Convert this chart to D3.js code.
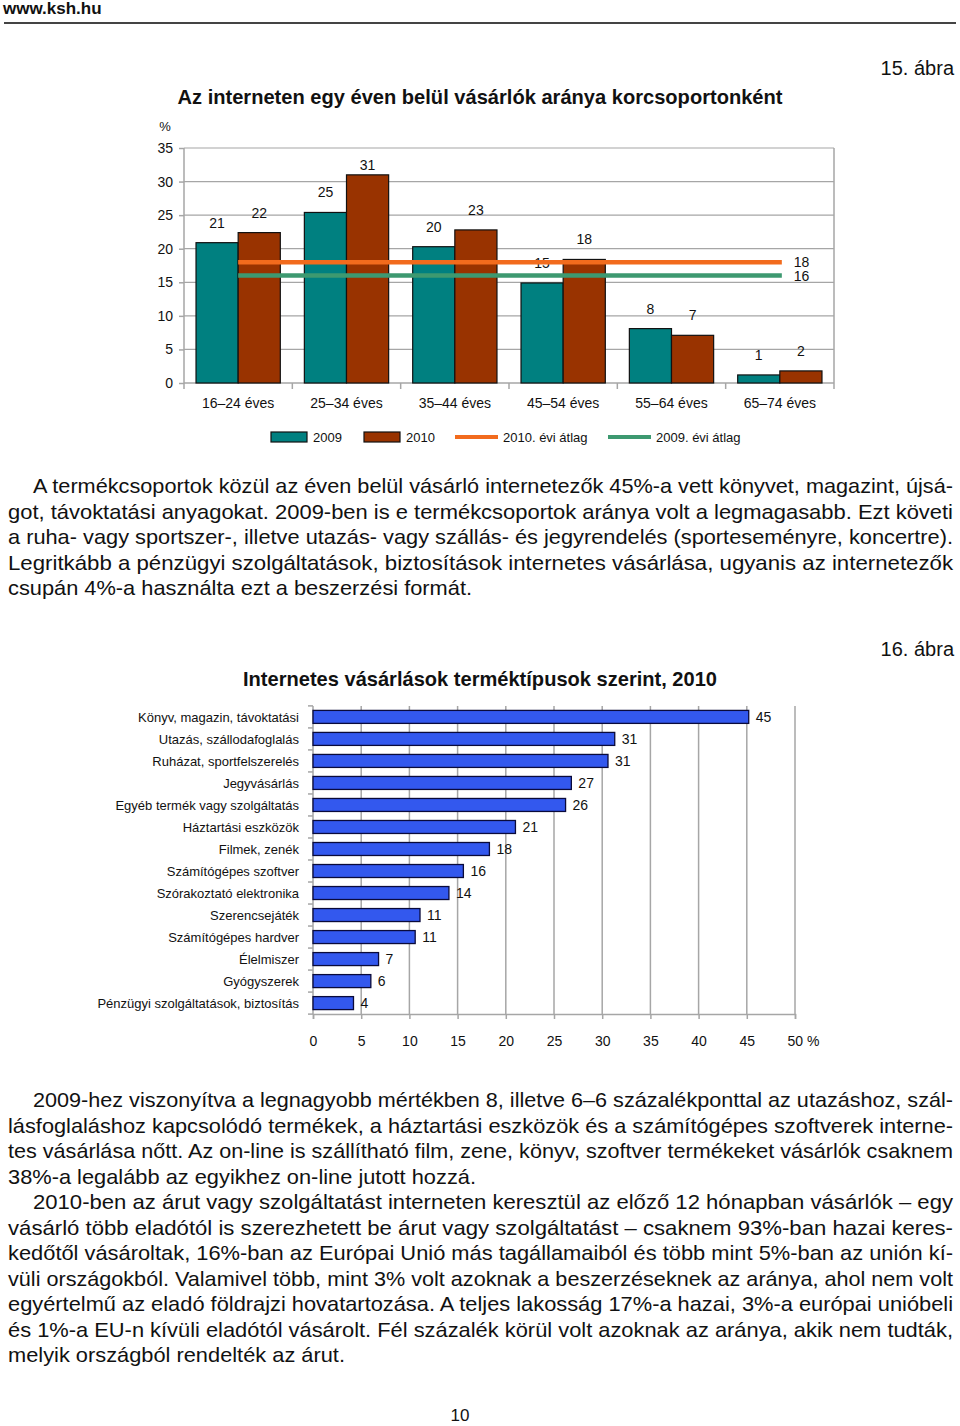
<!DOCTYPE html>
<html>
<head>
<meta charset="utf-8">
<script src="https://cdn.jsdelivr.net/npm/d3@7"></script>
<style>
  body { margin: 0; background: #fff; }
  svg { display: block; }
  text { font-family: "Liberation Sans Narrow", "Arial Narrow", "Liberation Sans", Arial, sans-serif; fill: #111; }
  .small { font-family: "Liberation Sans", Arial, sans-serif; font-size: 13px; }
</style>
</head>
<body>
<svg id="page" width="960" height="1426"></svg>
<script>
// ---- data: chart 15 (age groups) ----
const ageGroups = ["16–24 éves", "25–34 éves", "35–44 éves", "45–54 éves", "55–64 éves", "65–74 éves"];
const years = ["2009", "2010"];
const values2009 = [20.9, 25.4, 20.3, 14.9, 8.1, 1.2];
const values2010 = [22.4, 31.0, 22.8, 18.4, 7.1, 1.8];
const avg2009 = 16;
const avg2010 = 18;
const yTicks1 = [0, 5, 10, 15, 20, 25, 30, 35];

// ---- data: chart 16 (product types) ----
const products = ["Könyv, magazin, távoktatási", "Utazás, szállodafoglalás", "Ruházat, sportfelszerelés",
  "Jegyvásárlás", "Egyéb termék vagy szolgáltatás", "Háztartási eszközök", "Filmek, zenék",
  "Számítógépes szoftver", "Szórakoztató elektronika", "Szerencsejáték", "Számítógépes hardver",
  "Élelmiszer", "Gyógyszerek", "Pénzügyi szolgáltatások, biztosítás"];
const productValues = [45.2, 31.3, 30.6, 26.8, 26.2, 21.0, 18.3, 15.6, 14.1, 11.1, 10.6, 6.8, 6.0, 4.2];
const xTicks2 = [0, 5, 10, 15, 20, 25, 30, 35, 40, 45, 50];

// ---- text blocks: [line, justified?, indented?, width of a short last line] ----
const para1 = [
  ["A termékcsoportok közül az éven belül vásárló internetezők 45%-a vett könyvet, magazint, újsá-", true, true],
  ["got, távoktatási anyagokat. 2009-ben is e termékcsoportok aránya volt a legmagasabb. Ezt követi", true, false],
  ["a ruha- vagy sportszer-, illetve utazás- vagy szállás- és jegyrendelés (sporteseményre, koncertre).", true, false],
  ["Legritkább a pénzügyi szolgáltatások, biztosítások internetes vásárlása, ugyanis az internetezők", true, false],
  ["csupán 4%-a használta ezt a beszerzési formát.", false, false, 464]
];
const para2 = [
  ["2009-hez viszonyítva a legnagyobb mértékben 8, illetve 6–6 százalékponttal az utazáshoz, szál-", true, true],
  ["lásfoglaláshoz kapcsolódó termékek, a háztartási eszközök és a számítógépes szoftverek interne-", true, false],
  ["tes vásárlása nőtt. Az on-line is szállítható film, zene, könyv, szoftver termékeket vásárlók csaknem", true, false],
  ["38%-a legalább az egyikhez on-line jutott hozzá.", false, false, 468],
  ["2010-ben az árut vagy szolgáltatást interneten keresztül az előző 12 hónapban vásárlók – egy", true, true],
  ["vásárló több eladótól is szerezhetett be árut vagy szolgáltatást – csaknem 93%-ban hazai keres-", true, false],
  ["kedőtől vásároltak, 16%-ban az Európai Unió más tagállamaiból és több mint 5%-ban az unión kí-", true, false],
  ["vüli országokból. Valamivel több, mint 3% volt azoknak a beszerzéseknek az aránya, ahol nem volt", true, false],
  ["egyértelmű az eladó földrajzi hovatartozása. A teljes lakosság 17%-a hazai, 3%-a európai unióbeli", true, false],
  ["és 1%-a EU-n kívüli eladótól vásárolt. Fél százalék körül volt azoknak az aránya, akik nem tudták,", true, false],
  ["melyik országból rendelték az árut.", false, false, 337]
];

const svg = d3.select("#page");
const grid = "#a6a6a6";

// header
svg.append("text").attr("x", 3).attr("y", 14).attr("font-size", 17).attr("font-weight", "bold")
  .style("font-family", "'Liberation Sans', Arial, sans-serif").text("www.ksh.hu");
svg.append("line").attr("x1", 4).attr("x2", 956).attr("y1", 23).attr("y2", 23)
  .attr("stroke", "#444").attr("stroke-width", 2);

// paragraph writer
function writePara(lines, top) {
  const g = svg.append("g");
  lines.forEach(function(l, i) {
    const x = l[2] ? 33 : 8;
    const t = g.append("text").attr("x", x).attr("y", top + i * 25.5)
      .attr("font-size", 21).text(l[0]);
    t.attr("textLength", l[1] ? 953 - x : l[3]).attr("lengthAdjust", "spacingAndGlyphs");
  });
}

// ================= chart 15 =================
svg.append("text").attr("x", 954).attr("y", 75).attr("text-anchor", "end").attr("font-size", 20)
  .text("15. ábra");
svg.append("text").attr("x", 480).attr("y", 104).attr("text-anchor", "middle").attr("font-size", 21)
  .attr("font-weight", "bold").attr("textLength", 605).attr("lengthAdjust", "spacingAndGlyphs")
  .text("Az interneten egy éven belül vásárlók aránya korcsoportonként");

const c1 = { left: 184, right: 834, top: 148, bottom: 383 };
const y1 = d3.scaleLinear().domain([0, 35]).range([c1.bottom, c1.top]);
const x0 = d3.scaleBand().domain(ageGroups).range([c1.left, c1.right]).paddingInner(0.222).paddingOuter(0.111);
const xYear = d3.scaleBand().domain(years).range([0, x0.bandwidth()]);
const barColor = d3.scaleOrdinal().domain(years).range(["#008080", "#993300"]);

const g1 = svg.append("g");
// horizontal gridlines
g1.selectAll("line.grid").data(yTicks1.slice(1)).enter().append("line")
  .attr("x1", c1.left).attr("x2", c1.right)
  .attr("y1", function(d) { return y1(d); }).attr("y2", function(d) { return y1(d); })
  .attr("stroke", grid).attr("stroke-width", 1.2);
g1.append("line").attr("x1", c1.right).attr("x2", c1.right).attr("y1", c1.top).attr("y2", c1.bottom)
  .attr("stroke", grid).attr("stroke-width", 1.5);

// y axis
const yAxis1 = g1.append("g").attr("transform", "translate(" + c1.left + ",0)")
  .call(d3.axisLeft(y1).tickValues(yTicks1).tickSize(5).tickPadding(6));
yAxis1.selectAll("path, line").attr("stroke", grid).attr("stroke-width", 1.5);
yAxis1.select(".domain").attr("d", "M0," + c1.top + "V" + c1.bottom);
yAxis1.selectAll("text").attr("class", "small").attr("font-size", null).style("font-size", "14px");
g1.append("text").attr("class", "small").attr("x", 165).attr("y", 131).attr("text-anchor", "middle").text("%");

// x axis
const xAxis1 = g1.append("g").attr("transform", "translate(0," + c1.bottom + ")")
  .call(d3.axisBottom(x0).tickSize(0).tickPadding(15));
xAxis1.select(".domain").attr("stroke", grid).attr("stroke-width", 1.5)
  .attr("d", "M" + c1.left + ",0H" + c1.right);
xAxis1.selectAll("text").attr("class", "small").attr("font-size", null).style("font-size", "14px");
const step1 = x0.step();
g1.selectAll("line.sep").data(d3.range(ageGroups.length + 1)).enter().append("line")
  .attr("x1", function(i) { return c1.left + i * step1; }).attr("x2", function(i) { return c1.left + i * step1; })
  .attr("y1", c1.bottom).attr("y2", c1.bottom + 6).attr("stroke", grid).attr("stroke-width", 1.5);

// bars
const rows1 = ageGroups.map(function(a, i) {
  return [{ g: a, year: "2009", v: values2009[i] }, { g: a, year: "2010", v: values2010[i] }];
});
const groups = g1.selectAll("g.grp").data(rows1).enter().append("g")
  .attr("transform", function(d) { return "translate(" + x0(d[0].g) + ",0)"; });
groups.selectAll("rect").data(function(d) { return d; }).enter().append("rect")
  .attr("x", function(d) { return xYear(d.year); }).attr("width", xYear.bandwidth())
  .attr("y", function(d) { return y1(d.v); }).attr("height", function(d) { return y1(0) - y1(d.v); })
  .attr("fill", function(d) { return barColor(d.year); }).attr("stroke", "#111").attr("stroke-width", 1.2);
groups.selectAll("text").data(function(d) { return d; }).enter().append("text")
  .attr("class", "small").style("font-size", "14px")
  .attr("x", function(d) { return xYear(d.year) + xYear.bandwidth() / 2; })
  .attr("y", function(d) { return Math.max(y1(d.v) - 15, 170); })
  .attr("text-anchor", "middle").text(function(d) { return d3.format(".0f")(d.v); });

// average lines
const avgLines = [{ v: avg2010, c: "#f26b1d", label: "18" }, { v: avg2009, c: "#3d9970", label: "16" }];
const xa = x0(ageGroups[0]) + x0.bandwidth() / 2;
const xb = x0(ageGroups[ageGroups.length - 1]) + x0.bandwidth() / 2 + 2;
avgLines.forEach(function(a) {
  g1.append("line").attr("x1", xa).attr("x2", xb).attr("y1", y1(a.v)).attr("y2", y1(a.v))
    .attr("stroke", a.c).attr("stroke-width", 4.5);
  g1.append("text").attr("class", "small").style("font-size", "14px").attr("x", xb + 12)
    .attr("y", y1(a.v) + 5).text(a.label);
});

// legend
const lg = svg.append("g").attr("transform", "translate(0,437)");
const legendItems = [
  { type: "rect", c: "#008080", label: "2009", x: 271 },
  { type: "rect", c: "#993300", label: "2010", x: 364 },
  { type: "line", c: "#f26b1d", label: "2010. évi átlag", x: 455 },
  { type: "line", c: "#3d9970", label: "2009. évi átlag", x: 608 }
];
legendItems.forEach(function(d) {
  if (d.type === "rect") {
    lg.append("rect").attr("x", d.x).attr("y", -5).attr("width", 36).attr("height", 10)
      .attr("fill", d.c).attr("stroke", "#111").attr("stroke-width", 1.2);
    lg.append("text").attr("class", "small").attr("x", d.x + 42).attr("y", 5).text(d.label);
  } else {
    lg.append("line").attr("x1", d.x).attr("x2", d.x + 43).attr("y1", 0).attr("y2", 0)
      .attr("stroke", d.c).attr("stroke-width", 4);
    lg.append("text").attr("class", "small").attr("x", d.x + 48).attr("y", 5).text(d.label);
  }
});

writePara(para1, 493);

// ================= chart 16 =================
svg.append("text").attr("x", 954).attr("y", 656).attr("text-anchor", "end").attr("font-size", 20)
  .text("16. ábra");
svg.append("text").attr("x", 480).attr("y", 686).attr("text-anchor", "middle").attr("font-size", 21)
  .attr("font-weight", "bold").attr("textLength", 474).attr("lengthAdjust", "spacingAndGlyphs")
  .text("Internetes vásárlások terméktípusok szerint, 2010");

const c2 = { left: 313, right: 795, top: 706, bottom: 1014 };
const x2 = d3.scaleLinear().domain([0, 50]).range([c2.left, c2.right]);
const y2 = d3.scaleBand().domain(products).range([c2.top, c2.bottom]).paddingInner(0.41).paddingOuter(0.2);
const g2 = svg.append("g");

g2.selectAll("line.vgrid").data(xTicks2.slice(1)).enter().append("line")
  .attr("x1", function(d) { return x2(d); }).attr("x2", function(d) { return x2(d); })
  .attr("y1", c2.top).attr("y2", c2.bottom).attr("stroke", grid).attr("stroke-width", 1.5);

const xAxis2 = g2.append("g").attr("transform", "translate(0," + c2.bottom + ")")
  .call(d3.axisBottom(x2).tickValues(xTicks2).tickSize(5).tickPadding(17)
    .tickFormat(function(d) { return d === 50 ? "50 %" : d; }));
xAxis2.selectAll("path, line").attr("stroke", grid).attr("stroke-width", 1.5);
xAxis2.selectAll("text").attr("class", "small").attr("font-size", null).style("font-size", "14px");
xAxis2.selectAll("text").filter(function(d) { return d === 50; }).attr("dx", 8);

// y axis line + ticks between categories
g2.append("line").attr("x1", c2.left).attr("x2", c2.left).attr("y1", c2.top).attr("y2", c2.bottom)
  .attr("stroke", grid).attr("stroke-width", 1.5);
const step2 = y2.step();
const firstEdge = y2(products[0]) - step2 * y2.paddingInner() / 2;
g2.selectAll("line.ytick").data(d3.range(products.length + 1)).enter().append("line")
  .attr("x1", c2.left - 5).attr("x2", c2.left)
  .attr("y1", function(i) { return firstEdge + i * step2; })
  .attr("y2", function(i) { return firstEdge + i * step2; })
  .attr("stroke", grid).attr("stroke-width", 1.5);

g2.selectAll("text.cat").data(products).enter().append("text")
  .attr("class", "small").attr("x", 299)
  .attr("y", function(d) { return y2(d) + y2.bandwidth() / 2 + 5; })
  .attr("text-anchor", "end").text(function(d) { return d; });

g2.selectAll("rect").data(productValues).enter().append("rect")
  .attr("x", c2.left).attr("y", function(d, i) { return y2(products[i]); })
  .attr("width", function(d) { return x2(d) - x2(0); }).attr("height", y2.bandwidth())
  .attr("fill", "#3358ee").attr("stroke", "#0a0a3a").attr("stroke-width", 1.3);

g2.selectAll("text.val").data(productValues).enter().append("text")
  .attr("class", "small").style("font-size", "14px")
  .attr("x", function(d) { return x2(d) + 7; })
  .attr("y", function(d, i) { return y2(products[i]) + y2.bandwidth() / 2 + 5; })
  .text(function(d) { return d3.format(".0f")(d); });

writePara(para2, 1107);

svg.append("text").attr("x", 460).attr("y", 1421).attr("text-anchor", "middle").attr("font-size", 17)
  .text("10");
</script>
</body>
</html>
